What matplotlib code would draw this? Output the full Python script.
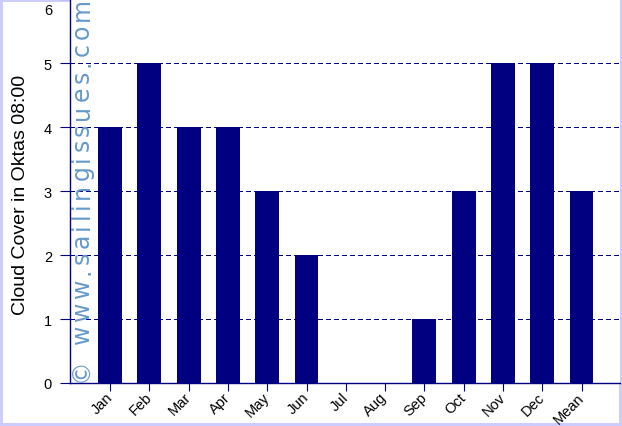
import matplotlib
matplotlib.use('Agg')
import matplotlib.pyplot as plt
from matplotlib.font_manager import FontProperties
from matplotlib.textpath import TextToPath

# data
months = ['Jan', 'Feb', 'Mar', 'Apr', 'May', 'Jun', 'Jul', 'Aug', 'Sep', 'Oct', 'Nov', 'Dec', 'Mean']
cloud = [4, 5, 4, 4, 3, 2, 0, 0, 1, 3, 5, 5, 3]
yticks = [0, 1, 2, 3, 4, 5, 6]
watermark = '© www.sailingissues.com'

plt.rcParams['font.family'] = ['Liberation Sans', 'DejaVu Sans']
navy = '#000080'
W, H = 622, 427

fig = plt.figure(figsize=(W / 100, H / 100), dpi=100)
fig.patch.set_edgecolor('#ccccff')
fig.patch.set_linewidth(3)
ax = fig.add_axes([70 / W, 43 / H, 550 / W, 384 / H])

x = list(range(len(months)))
ax.bar(x, cloud, width=0.61, color=navy, zorder=2)

ax.set_xlim(-1.02, 12.98)
ax.set_ylim(0, 6)
ax.set_yticks(yticks)
# top label would be clipped by the figure edge, drawn separately below
ax.set_yticklabels([str(v) for v in yticks[:-1]] + [''])
ax.set_xticks(x)
ax.set_xticklabels(months, rotation=45, ha='right', va='center', rotation_mode='anchor', fontsize=10.5)
ax.tick_params(axis='y', labelsize=10.5, colors=navy, labelcolor='black', length=7, pad=6)
ax.tick_params(axis='x', colors=navy, labelcolor='black', length=5.5, pad=3)

for s in ['top', 'right']:
    ax.spines[s].set_visible(False)
for s in ['left', 'bottom']:
    ax.spines[s].set_color(navy)
    ax.spines[s].set_linewidth(1)

ax.yaxis.grid(True, color=navy, linestyle=(0, (4, 3)), linewidth=0.75, antialiased=False, zorder=1)
ax.set_axisbelow(True)

fig.text(52 / W, (H - 11) / H, str(yticks[-1]), ha='right', va='center', fontsize=10.5)

# y label placed in figure pixels
fig.text(21 / W, (H - 195) / H, 'Cloud Cover in Oktas 08:00', rotation=90,
         ha='center', va='center', fontsize=14)

# watermark, letter spaced, drawn char by char from the bottom up
prop = FontProperties(family='DejaVu Sans', size=17)
ttp = TextToPath()
px = 100 / 72
widths = []
for ch in watermark:
    if ch == ' ':
        widths.append(0.318 * 17 * px)
    else:
        widths.append(ttp.get_text_width_height_descent(ch, prop, ismath=False)[0] * px)
span = 384
track = (span - sum(widths)) / (len(watermark) - 1)
ypos = 382
for ch, w in zip(watermark, widths):
    if ch != ' ':
        fig.text(89 / W, (H - ypos) / H, ch, rotation=90, rotation_mode='anchor',
                 ha='left', va='baseline', color='#6699cc', fontproperties=prop, zorder=5)
    ypos -= w + track

fig.savefig('out.png', dpi=100)
